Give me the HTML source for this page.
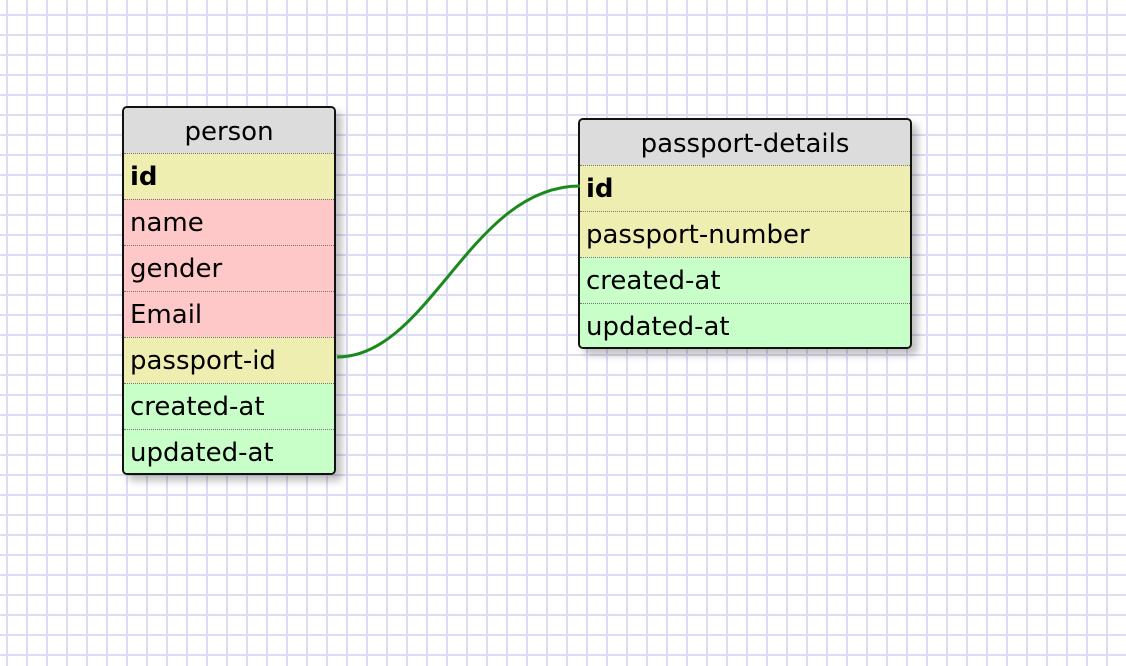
<!DOCTYPE html>
<html><head><style>
body{margin:0;width:1126px;height:666px;overflow:hidden;background:#fff;
background-image:linear-gradient(to right,transparent 6px,#dcdcf4 6px,#dcdcf4 8px,transparent 8px),linear-gradient(to bottom,transparent 14px,#dcdcf4 14px,#dcdcf4 16px,transparent 16px);
background-size:20px 20px;font-family:"DejaVu Sans","Liberation Sans",sans-serif;position:relative}
.t{position:absolute;border:2px solid #111;border-radius:5px;overflow:hidden;box-shadow:6px 6px 8px rgba(0,0,0,.25);box-sizing:border-box}
.r{height:46px;line-height:47px;font-size:26px;padding-left:6px;border-top:1.5px dotted #777;box-sizing:border-box;color:#000;white-space:nowrap}
.h{background:#dcdcdc;text-align:center;padding:0;border-top:none;height:45px;line-height:48px}
.y{background:#eeeeb0}.p{background:#ffc8c8}.g{background:#c8ffc8}.b{font-weight:bold}
</style></head><body>
<div class="t" style="left:122px;top:106px;width:214px;height:369px">
<div class="r h">person</div>
<div class="r y b">id</div>
<div class="r p">name</div>
<div class="r p">gender</div>
<div class="r p">Email</div>
<div class="r y">passport-id</div>
<div class="r g">created-at</div>
<div class="r g">updated-at</div>
</div>
<div class="t" style="left:578px;top:118px;width:334px;height:231px">
<div class="r h">passport-details</div>
<div class="r y b">id</div>
<div class="r y">passport-number</div>
<div class="r g">created-at</div>
<div class="r g">updated-at</div>
</div>
<svg style="position:absolute;left:0;top:0" width="1126" height="666">
<path d="M337 357 C430 357 470 186 580 186" fill="none" stroke="#1a8a1a" stroke-width="3"/>
</svg>
</body></html>
